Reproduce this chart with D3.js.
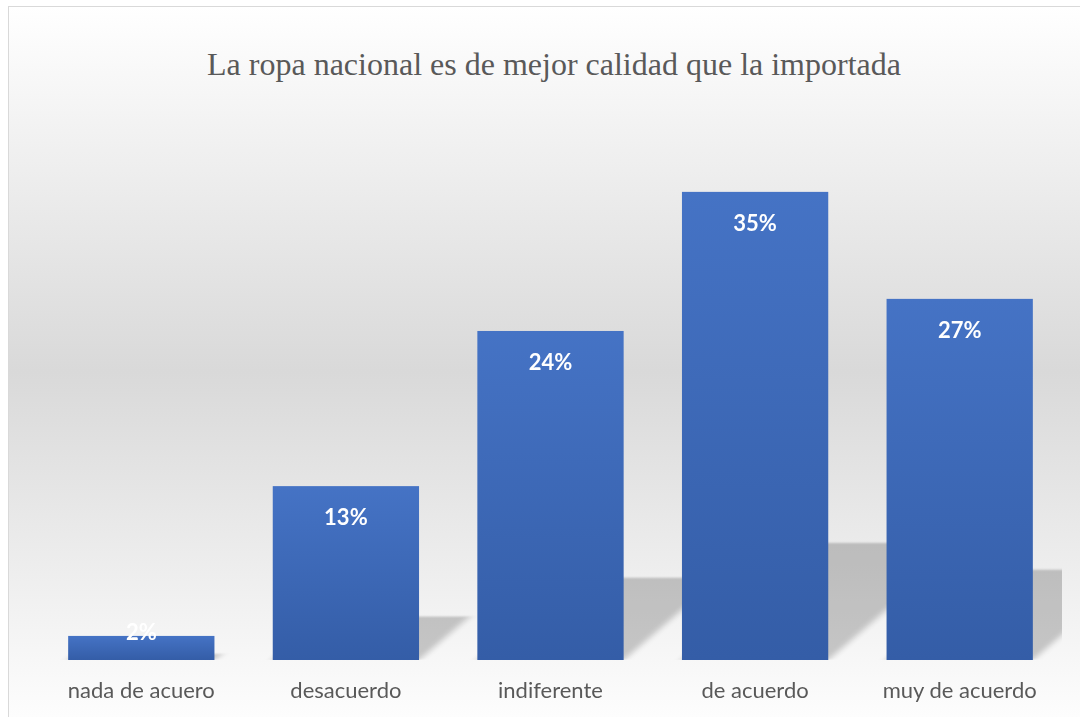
<!DOCTYPE html>
<html>
<head>
<meta charset="utf-8">
<script src="https://cdn.jsdelivr.net/npm/d3@7"></script>
<style>
    body { margin: 0; background: #ffffff; }
    svg { display: block; }
</style>
</head>
<body>
<svg id="chart_svg"></svg>
<script>
// data
const categories = ['nada de acuero', 'desacuerdo', 'indiferente', 'de acuerdo', 'muy de acuerdo'];
const values = [1.8, 13, 24.6, 35, 27];
const valueLabels = ['2%', '13%', '24%', '35%', '27%'];
const titleText = 'La ropa nacional es de mejor calidad que la importada';

const width = 1080;
const height = 717;

function render() {
    const svg = d3.select('#chart_svg')
        .attr('width', width)
        .attr('height', height);

    svg.selectAll('*').remove();

    const defs = svg.append('defs');

    // chart area background: white -> grey -> white
    const bg = defs.append('linearGradient')
        .attr('id', 'bgGrad')
        .attr('x1', 0).attr('y1', 0)
        .attr('x2', 0).attr('y2', 1);
    bg.append('stop').attr('offset', '0%').attr('stop-color', '#ffffff');
    bg.append('stop').attr('offset', '50%').attr('stop-color', '#d9d9d9');
    bg.append('stop').attr('offset', '100%').attr('stop-color', '#ffffff');

    // bar fill, lighter at the top
    const barGrad = defs.append('linearGradient')
        .attr('id', 'barGrad')
        .attr('x1', 0).attr('y1', 0)
        .attr('x2', 0).attr('y2', 1);
    barGrad.append('stop').attr('offset', '0%').attr('stop-color', '#4573c5');
    barGrad.append('stop').attr('offset', '100%').attr('stop-color', '#345da7');

    defs.append('filter')
        .attr('id', 'shadowBlur')
        .attr('x', '-20%').attr('y', '-20%')
        .attr('width', '140%').attr('height', '140%')
        .append('feGaussianBlur')
        .attr('stdDeviation', 4);

    const plot = {left: 39, right: 1062, top: 125, bottom: 660};

    defs.append('clipPath')
        .attr('id', 'plotClip')
        .append('rect')
        .attr('x', plot.left)
        .attr('y', 0)
        .attr('width', plot.right - plot.left)
        .attr('height', plot.bottom);

    // outer frame
    svg.append('rect')
        .attr('x', 8.5)
        .attr('y', 6.5)
        .attr('width', 1100)
        .attr('height', 730)
        .attr('fill', 'url(#bgGrad)')
        .attr('stroke', '#d9d9d9')
        .attr('stroke-width', 1);

    svg.append('text')
        .attr('x', 554)
        .attr('y', 75)
        .attr('text-anchor', 'middle')
        .style('font-family', '"Liberation Serif", "Times New Roman", serif')
        .style('font-size', '32px')
        .attr('fill', '#595959')
        .text(titleText);

    const xScale = d3.scaleBand()
        .domain(categories)
        .range([plot.left, plot.right])
        .paddingInner(0.285)
        .paddingOuter(0.1425);

    const yScale = d3.scaleLinear()
        .domain([0, 40])
        .range([plot.bottom, plot.top]);

    const barData = categories.map((c, i) => ({
        category: c,
        value: values[i],
        label: valueLabels[i]
    }));

    // perspective shadows cast up and to the right
    const shadowGroup = svg.append('g')
        .attr('clip-path', 'url(#plotClip)')
        .append('g')
        .attr('transform', `translate(0, ${plot.bottom}) matrix(1, 0, -0.29, 0.25, 0, 0)`)
        .attr('filter', 'url(#shadowBlur)');

    shadowGroup.selectAll('.shadow')
        .data(barData)
        .enter()
        .append('rect')
        .attr('class', 'shadow')
        .attr('x', d => xScale(d.category))
        .attr('y', d => yScale(d.value) - plot.bottom)
        .attr('width', xScale.bandwidth())
        .attr('height', d => plot.bottom - yScale(d.value))
        .attr('fill', '#000000')
        .attr('opacity', 0.2);

    svg.selectAll('.bar')
        .data(barData)
        .enter()
        .append('rect')
        .attr('class', 'bar')
        .attr('x', d => xScale(d.category))
        .attr('y', d => yScale(d.value))
        .attr('width', xScale.bandwidth())
        .attr('height', d => plot.bottom - yScale(d.value))
        .attr('fill', 'url(#barGrad)');

    // value labels inside the bar ends
    svg.selectAll('.value-label')
        .data(barData)
        .enter()
        .append('text')
        .attr('class', 'value-label')
        .attr('x', d => xScale(d.category) + xScale.bandwidth() / 2)
        .attr('y', d => Math.min(yScale(d.value) + 39, plot.bottom - 20))
        .attr('text-anchor', 'middle')
        .style('font-family', 'Lato, "Open Sans", sans-serif')
        .style('font-weight', 'bold')
        .style('font-size', '22px')
        .attr('fill', '#ffffff')
        .text(d => d.label);

    svg.selectAll('.cat-label')
        .data(categories)
        .enter()
        .append('text')
        .attr('class', 'cat-label')
        .attr('x', d => xScale(d) + xScale.bandwidth() / 2)
        .attr('y', 698)
        .attr('text-anchor', 'middle')
        .style('font-family', 'Lato, "Open Sans", sans-serif')
        .style('font-size', '22px')
        .attr('fill', '#595959')
        .text(d => d);
}

document.addEventListener('DOMContentLoaded', render);
</script>
</body>
</html>
